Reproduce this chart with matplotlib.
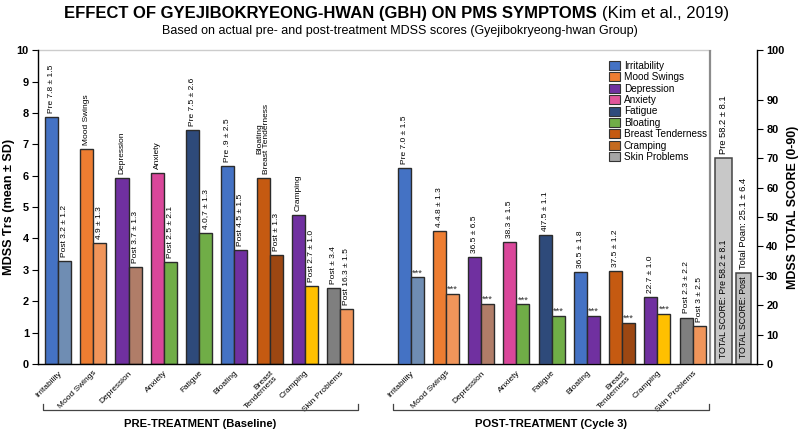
import numpy as np
import matplotlib
matplotlib.use("Agg")
from matplotlib import pyplot as plt
from matplotlib import font_manager
from matplotlib.patches import Patch
import matplotlib.transforms as mtransforms

# data
symptoms = ['Irritability', 'Mood Swings', 'Depression', 'Anxiety', 'Fatigue',
            'Bloating', 'Breast\nTenderness', 'Cramping', 'Skin Problems']
legend_names = ['Irritability', 'Mood Swings', 'Depression', 'Anxiety', 'Fatigue',
                'Bloating', 'Breast Tenderness', 'Cramping', 'Skin Problems']

# baseline panel, left axis (0-10)
base_pre = [7.87, 6.86, 5.92, 6.08, 7.45, 6.31, 5.92, 4.75, 2.42]
base_post = [3.29, 3.86, 3.10, 3.26, 4.17, 3.63, 3.47, 2.48, 1.76]
base_pre_txt = ['Pre 7.8 ± 1.5', 'Mood Swings', 'Depression', 'Anxiety', 'Pre 7.5 ± 2.6',
                'Pre .9 ± 2.5', 'Bloating\nBreast Tenderness', 'Cramping', 'Post ± 3.4']
base_post_txt = ['Post 3.2 ± 1.2', '4.9 ± 1.3', 'Post 3.7 ± 1.3', 'Post 2.5 ± 2.1', '4.0,7 ± 1.3',
                 'Post 4.5 ± 1.5', 'Post ± 1.3', 'Post 2.7 ± 1.0', 'Post 16.3 ± 1.5']

# cycle 3 panel, right axis (0-100)
cyc_pre = [66.7, 45.3, 36.3, 41.5, 43.9, 31.4, 31.7, 22.7, 15.8]
cyc_post = [29.5, 24.0, 20.6, 20.3, 16.4, 16.4, 14.0, 17.0, 12.9]
cyc_pre_txt = ['Pre 7.0 ± 1.5', '4.4.8 ± 1.3', '36.5 ± 6.5', '38.3 ± 1.5', '4l7.5 ± 1.1',
               '36.5 ± 1.8', '37.5 ± 1.2', '22.7 ± 1.0', 'Post 2.3 ± 2.2']
cyc_post_txt = ['***'] * 8 + ['Post 3 ± 2.5']

total_vals = [70.1, 31.0]
total_top_txt = ['Pre 58.2 ± 8.1', 'Total Poan: 25.1 ± 6.4']
total_in_txt = ['TOTAL SCORE: Pre 58.2 ± 8.1', 'TOTAL SCORE: Post']

right_ticks = [0, 10, 20, 30, 40, 50, 60, 70, 80, 90, 100]

pre_colors = ['#4472c4', '#ed7d31', '#7030a0', '#d9479a', '#2e4a7a',
              '#4472c4', '#c55a11', '#7030a0', '#7f7f7f']
post_colors = ['#6f8db3', '#f0955a', '#b07d68', '#70ad47', '#70ad47',
               '#7030a0', '#9c4712', '#ffc000', '#f0955a']
legend_colors = ['#4472c4', '#ed7d31', '#7030a0', '#e0559a', '#2f4b7c',
                 '#70ad47', '#c55a11', '#c46a1f', '#a5a5a5']

# narrow font if there is one, otherwise plain Liberation Sans a bit smaller
installed = set(f.name for f in font_manager.fontManager.ttflist)
if 'Liberation Sans Narrow' in installed:
    NARROW = ['Liberation Sans Narrow', 'DejaVu Sans']
    k = 1.0
else:
    NARROW = ['Liberation Sans', 'DejaVu Sans']
    k = 0.84
SANS = ['Liberation Sans', 'DejaVu Sans']

fig = plt.figure(figsize=(8, 4.36), dpi=100)
ax = fig.add_axes([0.0475, 0.165, 0.899, 0.72])
ax2 = ax.twinx()

w = 0.37
ec = '#2b2b2b'
x_base = np.arange(9)
x_cyc = np.arange(9) + 10

ax.bar(x_base - w / 2, base_pre, w, color=pre_colors, edgecolor=ec, linewidth=1.0)
ax.bar(x_base + w / 2, base_post, w, color=post_colors, edgecolor=ec, linewidth=1.0)
ax2.bar(x_cyc - w / 2, cyc_pre, w, color=pre_colors, edgecolor=ec, linewidth=1.0)
ax2.bar(x_cyc + w / 2, cyc_post, w, color=post_colors, edgecolor=ec, linewidth=1.0)

# total score bars
x_tot = np.array([18.88, 19.45])
ax2.bar(x_tot, total_vals, [0.48, 0.43], color=['#c8c8c8', '#bfbfbf'],
        edgecolor='#444444', linewidth=1.1)

ann = dict(rotation=90, ha='center', va='bottom', textcoords='offset points',
           fontsize=7.2 * k, family=NARROW, linespacing=1.0)
for i in range(9):
    ax.annotate(base_pre_txt[i], (x_base[i] - w / 2, base_pre[i]), xytext=(0, 3), **ann)
    ax.annotate(base_post_txt[i], (x_base[i] + w / 2, base_post[i]), xytext=(0, 3), **ann)
    ax2.annotate(cyc_pre_txt[i], (x_cyc[i] - w / 2, cyc_pre[i]), xytext=(0, 3), **ann)
    if cyc_post_txt[i] == '***':
        ax2.annotate('***', (x_cyc[i] + w / 2, cyc_post[i]), xytext=(0, 0),
                     textcoords='offset points', ha='center', va='bottom',
                     fontsize=8 * k, family=NARROW, color='#333333')
    else:
        ax2.annotate(cyc_post_txt[i], (x_cyc[i] + w / 2, cyc_post[i]), xytext=(0, 3), **ann)

tot_ann = dict(ann, fontsize=8 * k)
for i in range(2):
    ax2.annotate(total_top_txt[i], (x_tot[i], total_vals[i]), xytext=(0, 3), **tot_ann)
    ax2.text(x_tot[i], 2, total_in_txt[i], rotation=90, ha='center', va='bottom',
             fontsize=7.4 * k, family=NARROW)

# axes setup
ax.set_xlim(-0.567, 19.83)
ax.set_ylim(0, 10)
ax.set_yticks(range(0, 11))
ax2.set_ylim(0, 106.8)
ax2.set_yticks([t if t < 100 else 106.8 for t in right_ticks])
ax2.set_yticklabels([str(t) for t in right_ticks])

ax.set_xticks(list(x_base) + list(x_cyc))
ax.set_xticklabels(symptoms + symptoms, rotation=45, ha='right', rotation_mode='anchor',
                   fontsize=7.2 * k, family=NARROW, linespacing=0.95)
ax.tick_params(axis='x', length=0, pad=4)
ax.tick_params(axis='y', length=4, width=0.8, labelsize=9.4 * k, pad=2.5)
ax2.tick_params(axis='y', length=4, width=0.8, labelsize=9.4 * k, pad=2.5)
for lab in ax.get_yticklabels() + ax2.get_yticklabels():
    lab.set_fontweight('bold')
    lab.set_family(NARROW)

for s in ['top', 'right']:
    ax.spines[s].set_visible(False)
for s in ['top', 'left', 'bottom']:
    ax2.spines[s].set_visible(False)
ax2.spines['right'].set_linewidth(1.0)
ax.spines['left'].set_linewidth(1.0)
ax.spines['bottom'].set_linewidth(1.0)

# top border and separator before total bars
sep = 18.5
ax.plot([-0.567, sep], [10, 10], color='#cccccc', lw=1.0, clip_on=False)
ax.axvline(sep, color='#8c8c8c', lw=1.6)

ax.set_ylabel('MDSS Ƭrs (mean ± SD)', fontsize=10.8 * k, fontweight='bold', family=NARROW, labelpad=1)
ax2.set_ylabel('MDSS TOTAL SCORE (0-90)', fontsize=10.6 * k, fontweight='bold', family=NARROW, labelpad=2)

# group brackets
trans = mtransforms.blended_transform_factory(ax.transData, ax.transAxes)
for x0, x1, name in [(-0.43, 8.5, 'PRE-TREATMENT (Baseline)'),
                     (9.5, 18.45, 'POST-TREATMENT (Cycle 3)')]:
    ax.plot([x0, x0, x1, x1], [-0.128, -0.147, -0.147, -0.128], color='#444444', lw=0.9,
            transform=trans, clip_on=False)
    ax.text((x0 + x1) / 2, -0.19, name, transform=trans, ha='center', va='center',
            fontsize=9.6 * k, fontweight='bold', family=NARROW)

# legend
handles = [Patch(facecolor=c, edgecolor='#333333', linewidth=0.8) for c in legend_colors]
ax.legend(handles, legend_names, loc='upper left', bbox_to_anchor=(0.785, 0.985),
          frameon=False, prop={'family': NARROW, 'size': 8.6 * k},
          handlelength=1.1, handleheight=1.0, labelspacing=0.14, handletextpad=0.4,
          borderaxespad=0.2)

# titles
fig.text(597 / 800, 0.968, 'EFFECT OF GYEJIBOKRYEONG-HWAN (GBH) ON PMS SYMPTOMS',
         ha='right', va='center', fontsize=12, fontweight='bold', family=SANS)
fig.text(602 / 800, 0.968, '(Kim et al., 2019)', ha='left', va='center',
         fontsize=12, family=SANS)
fig.text(0.5, 0.928, 'Based on actual pre- and post-treatment MDSS scores (Gyejibokryeong-hwan Group)',
         ha='center', va='center', fontsize=9, family=SANS)

fig.savefig('out.png', dpi=100)
